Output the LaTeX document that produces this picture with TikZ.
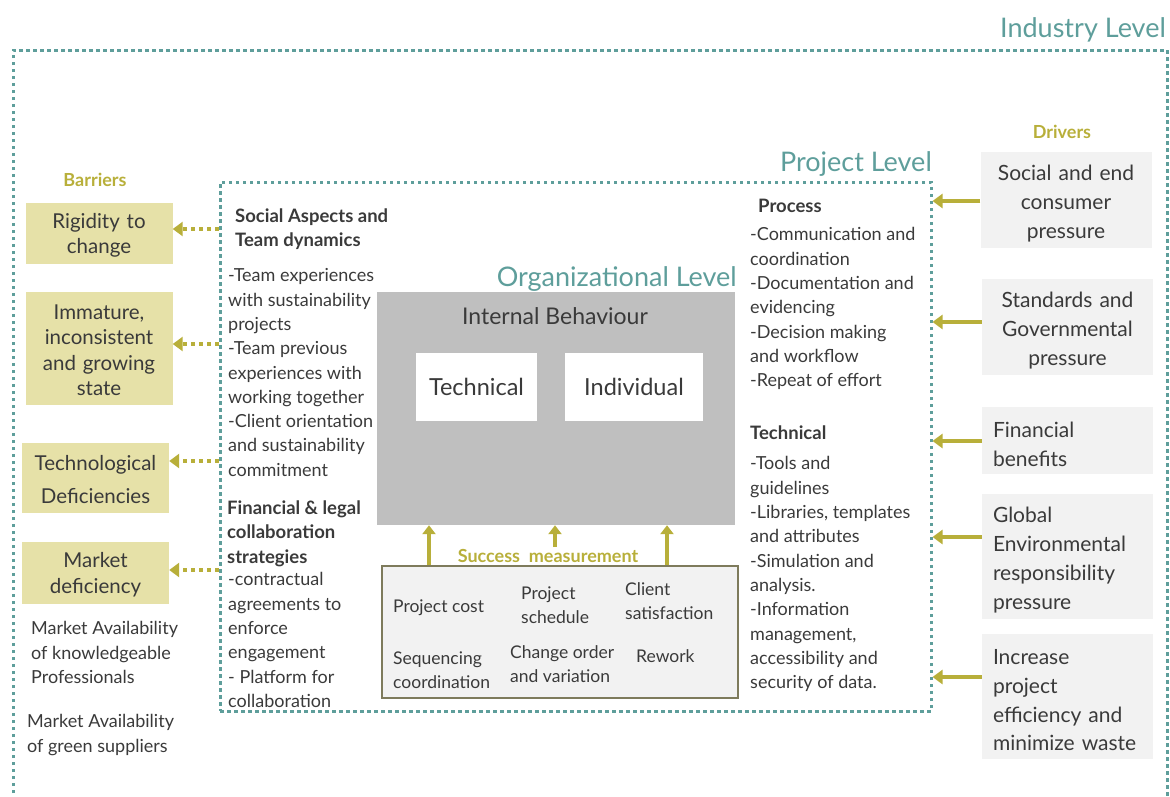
\documentclass[tikz,border=0pt]{standalone}
\usepackage{fontspec}
\setmainfont{Lato}
\usetikzlibrary{arrows.meta}
\definecolor{lvlteal}{RGB}{94,158,155}
\definecolor{olivemark}{RGB}{184,175,58}
\definecolor{barfill}{RGB}{230,225,168}
\definecolor{drvfill}{RGB}{242,242,242}
\definecolor{behgray}{RGB}{191,191,191}
\definecolor{txtgray}{RGB}{58,58,58}
\definecolor{smborder}{RGB}{126,123,92}

\begin{document}
\begin{tikzpicture}
[x=1pt,y=-1pt,every node/.style={text=txtgray,inner sep=0pt},
 lvlline/.style={draw=lvlteal,line width=3pt,dash pattern=on 3.5pt off 3.5pt},
 lvltitle/.style={text=lvlteal,font=\fontsize{27}{32}\selectfont},
 body/.style={align=left,font=\fontsize{18}{24.3}\selectfont},
 bodyhd/.style={align=left,font=\bfseries\fontsize{18.5}{24.3}\selectfont},
 smitem/.style={align=left,font=\fontsize{17.5}{24.3}\selectfont},
 groupttl/.style={text=olivemark,font=\bfseries\fontsize{18}{20}\selectfont},
 barbox/.style={fill=barfill,align=center,text width=139pt,inner xsep=4pt,
   font=\fontsize{20.5}{25.5}\selectfont,execute at begin node={\rule{0pt}{18.5pt}}},
 drvbox/.style={fill=drvfill,text width=149pt,inner xsep=11pt,
   font=\fontsize{21}{28.8}\selectfont,execute at begin node={\rule{0pt}{22.5pt}}},
 drvarrow/.style={draw=olivemark,line width=4pt,-{Triangle[length=10pt,width=14pt]}},
 bararrow/.style={draw=olivemark,line width=3.5pt,dash pattern=on 4pt off 4pt,-{Triangle[length=10pt,width=14pt]}},
 smarrow/.style={draw=olivemark,line width=3.5pt,-{Triangle[length=9pt,width=13pt]}}]
  \useasboundingbox (0,0) rectangle (1170,796);

  % levels
  \draw[lvlline] (13,800) -- (13,50) -- (1167,50) -- (1167,800);
  \node[lvltitle,anchor=east] (indlbl) at (1166,30) {Industry Level};
  \node[lvlline,minimum width=711pt,minimum height=529pt] (proj) at (575.5,446.5) {};
  \node[lvltitle,anchor=east] (projlbl) at (932,164) {Project Level};
  \node[lvltitle,anchor=east] (orglbl) at (737,279) {Organizational Level};

  % internal behaviour
  \node[fill=behgray,minimum width=358pt,minimum height=233pt] (beh) at (556,408.5) {};
  \node[font=\fontsize{23}{26}\selectfont] (behlbl) at (555,316) {Internal Behaviour};
  \node[fill=white,minimum width=121pt,minimum height=68pt,font=\fontsize{23.5}{26}\selectfont] (tech) at (476.5,387) {Technical};
  \node[fill=white,minimum width=138pt,minimum height=68pt,font=\fontsize{23.5}{26}\selectfont] (indiv) at (634,387) {Individual};

  % success measurement
  \node[fill=drvfill,draw=smborder,line width=2pt,minimum width=356pt,minimum height=132pt] (succ) at (560,632) {};
  \node[groupttl] (smlbl) at (548,556) {Success\ \ measurement};
  \coordinate (smtop) at (555,547);
  \node[smitem,anchor=west] (pcost) at (393,608) {Project cost};
  \node[smitem,anchor=west] (psched) at (521,605) {Project\\schedule};
  \node[smitem,anchor=west] (csat) at (625,601) {Client\\satisfaction};
  \node[smitem,anchor=west] (seq) at (393,670) {Sequencing\\coordination};
  \node[smitem,anchor=west] (chord) at (510,664) {Change order\\and variation};
  \node[smitem,anchor=west] (rework) at (636,656) {Rework};

  % project level texts
  \node[bodyhd,anchor=north west] (soclhd) at (235,208.5) {Social Aspects and\\Team dynamics};
  \node[body,anchor=north west] (soclbody) at (228,268.5) {-Team experiences\\with sustainability\\projects\\-Team previous\\experiences with\\working together\\-Client orientation\\and sustainability\\commitment};
  \node[bodyhd,anchor=north west] (finhd) at (227,500.5) {Financial \& legal\\collaboration\\strategies};
  \node[body,anchor=north west] (finbody) at (228,572.5) {-contractual\\agreements to\\enforce\\engagement\\- Platform for\\collaboration};
  \node[bodyhd,anchor=north west] (prochd) at (758,198.5) {Process};
  \node[body,anchor=north west] (procbody) at (750,227.5) {-Communication and\\coordination\\-Documentation and\\evidencing\\-Decision making\\and workflow\\-Repeat of effort};
  \node[bodyhd,anchor=north west] (techhd) at (750,425.5) {Technical};
  \node[body,anchor=north west] (techbody) at (750,456.5) {-Tools and\\guidelines\\-Libraries, templates\\and attributes\\-Simulation and\\analysis.\\-Information\\management,\\accessibility and\\security of data.};

  % barriers
  \node[groupttl] (barlbl) at (95,180) {Barriers};
  \node[barbox,minimum height=61pt] (b1) at (99,233.5) {Rigidity to\\change};
  \node[barbox,minimum height=113pt] (b2) at (99,348.5) {Immature,\\inconsistent\\and growing\\state};
  \node[barbox,minimum height=70pt,font=\fontsize{20.5}{33}\selectfont,execute at begin node={}] (b3) at (95.5,478) {Technological\\Deficiencies};
  \node[barbox,minimum height=62pt] (b4) at (95.5,573) {Market\\deficiency};
  \node[body,anchor=north west] (mkprof) at (31,621.5) {Market Availability\\of knowledgeable\\Professionals};
  \node[body,anchor=north west] (mkgreen) at (27,714.5) {Market Availability\\of green suppliers};

  % drivers
  \node[groupttl] (drvlbl) at (1062,132) {Drivers};
  \node[drvbox,align=center,minimum height=96pt] (d1) at (1066,200) {Social and end\\consumer\\pressure};
  \node[drvbox,align=center,minimum height=96pt] (d2) at (1067.5,327) {Standards and\\Governmental\\pressure};
  \node[drvbox,align=left,minimum height=67pt] (d3) at (1067.5,440.5) {Financial\\benefits};
  \node[drvbox,align=left,minimum height=125pt] (d4) at (1067.5,556.5) {Global\\Environmental\\responsibility\\pressure};
  \node[drvbox,align=left,minimum height=125pt] (d5) at (1067.5,696.5) {Increase\\project\\efficiency and\\minimize waste};

  \foreach \d/\y in {d1/201, d2/322, d3/441, d4/537, d5/677}
    \draw[drvarrow] (\d.west |- 0,\y) -- (proj.east |- 0,\y);
  \foreach \b/\y in {b1/229, b2/344, b3/461, b4/570}
    \draw[bararrow] (proj.west |- 0,\y) -- (\b.east |- 0,\y);
  \foreach \x in {429, 667}
    \draw[smarrow] (succ.north -| \x,0) -- (beh.south -| \x,0);
  \draw[smarrow] (smtop) -- (beh.south -| smtop);

\end{tikzpicture}
\end{document}
